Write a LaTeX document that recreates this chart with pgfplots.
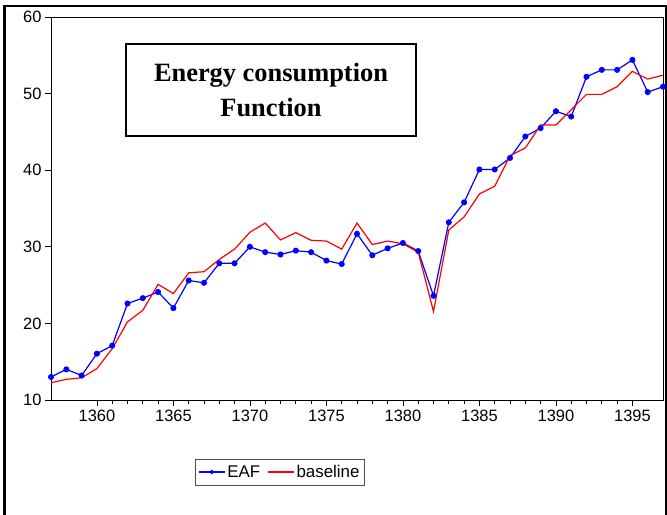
\documentclass[border=0pt]{standalone}
\usepackage{pgfplots}
\pgfplotsset{compat=1.18}
\usepackage{fontspec}
\setmainfont{Liberation Sans}
\newfontfamily\titlefont{Liberation Serif}
\definecolor{eafblue}{RGB}{0,0,255}
\definecolor{basered}{RGB}{255,0,0}
\begin{document}
\begin{tikzpicture}[x=1bp,y=1bp]
\path[use as bounding box] (0,0) rectangle (667,-515);
\draw[line width=2.5bp] (4.5,-530) -- (4.5,-6) -- (666,-6) -- (666,-530);
\begin{axis}[
  at={(51bp,-400bp)}, anchor=south west,
  width=612bp, height=383bp, scale only axis,
  xmin=1357, xmax=1397, ymin=10, ymax=60,
  xtick={1360,1365,...,1395}, minor x tick num=4,
  ytick={10,20,...,60},
  tick align=outside, xtick pos=lower, ytick pos=left,
  major tick length=6bp, minor tick length=4bp,
  tick style={black, line width=0.8bp},
  axis line style={line width=0.9bp},
  /pgf/number format/assume math mode=true,
  /pgf/number format/1000 sep={},
  tick label style={font=\fontsize{16.5}{19}\selectfont},
  legend style={at={(0.374,-0.188)}, anchor=center, legend columns=2,
    draw=black!70, font=\fontsize{17}{20}\selectfont, inner ysep=4bp, inner xsep=3bp,
    /tikz/every even column/.append style={column sep=5bp}},
  legend image code/.code={\draw[mark repeat=2,mark phase=2,mark size=1.5bp,#1] plot coordinates {(0bp,0bp) (13bp,0bp) (26bp,0bp)};},
]
\addplot[eafblue, line width=1.2bp, mark=*, mark size=2.4bp] coordinates {
(1357,13.0) (1358,14.0) (1359,13.2) (1360,16.05) (1361,17.1) (1362,22.6) (1363,23.3)
(1364,24.1) (1365,22.0) (1366,25.6) (1367,25.3) (1368,27.85) (1369,27.85) (1370,30.0)
(1371,29.3) (1372,29.0) (1373,29.5) (1374,29.3) (1375,28.2) (1376,27.75) (1377,31.7)
(1378,28.9) (1379,29.8) (1380,30.5) (1381,29.45) (1382,23.6) (1383,33.2) (1384,35.8)
(1385,40.1) (1386,40.1) (1387,41.6) (1388,44.4) (1389,45.5) (1390,47.7) (1391,47.0)
(1392,52.2) (1393,53.1) (1394,53.1) (1395,54.4) (1396,50.2) (1397,50.9)
};
\addlegendentry{EAF}
\addplot[basered, line width=1.2bp] coordinates {
(1357,12.26) (1358,12.7) (1359,12.9) (1360,14.1) (1361,16.7) (1362,20.2) (1363,21.7)
(1364,25.1) (1365,23.9) (1366,26.6) (1367,26.75) (1368,28.35) (1369,29.7) (1370,31.9)
(1371,33.1) (1372,30.9) (1373,31.85) (1374,30.85) (1375,30.75) (1376,29.7) (1377,33.1)
(1378,30.3) (1379,30.75) (1380,30.4) (1381,29.3) (1382,21.55) (1383,32.2) (1384,33.9)
(1385,36.9) (1386,37.9) (1387,41.9) (1388,42.9) (1389,45.9) (1390,45.9) (1391,47.9)
(1392,49.9) (1393,49.9) (1394,50.9) (1395,52.9) (1396,51.9) (1397,52.4)
};
\addlegendentry{baseline}
\end{axis}
\node[draw, line width=2bp, fill=white, minimum width=290bp, minimum height=92bp, inner sep=0pt] at (271,-90) {};
\node[align=center, font=\titlefont\bfseries\fontsize{26.5}{35}\selectfont] at (271,-90) {Energy consumption\\Function};
\end{tikzpicture}
\end{document}
